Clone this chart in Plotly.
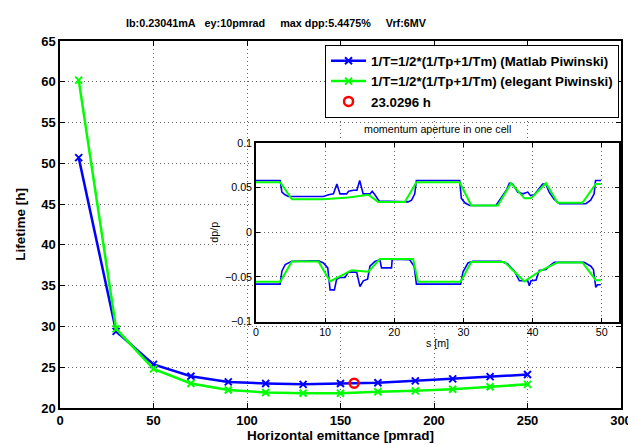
import plotly.graph_objects as go

# ---------------- data ----------------
emittance = [10, 30, 50, 70, 90, 110, 130, 150, 170, 190, 210, 230, 250]
life_matlab = [50.7, 29.4, 25.35, 23.9, 23.2, 23.0, 22.9, 23.0, 23.1, 23.33, 23.57, 23.85, 24.1]
life_elegant = [60.2, 29.7, 24.8, 23.0, 22.2, 21.9, 21.8, 21.8, 22.0, 22.1, 22.3, 22.6, 22.9]
sel_emit = [157.3]
sel_life = [23.0296]

# momentum aperture in one cell (inset)
s_up_m = [0, 3.5, 3.75, 4.2, 4.7, 9.75, 10.5, 11.2, 11.7, 12.15, 13.1, 13.4, 14.1, 14.6, 15.0,
          15.5, 16.5, 16.8, 17.2, 17.8, 22.0, 22.5, 22.96, 23.2, 29.45, 29.7, 30.2, 30.9, 34.7,
          35.45, 36.2, 36.65, 37.1, 37.85, 38.6, 39.3, 39.7, 40.25, 40.7, 41.45, 41.9, 42.4,
          43.1, 43.9, 47.7, 48.4, 48.9, 49.1, 49.9]
dp_up_m = [0.058, 0.058, 0.045, 0.042, 0.040, 0.040, 0.042, 0.043, 0.054, 0.043, 0.043, 0.046,
           0.047, 0.047, 0.058, 0.043, 0.043, 0.046, 0.042, 0.035, 0.034, 0.036, 0.043, 0.058,
           0.058, 0.038, 0.033, 0.030, 0.030, 0.038, 0.047, 0.055, 0.054, 0.045, 0.043, 0.045,
           0.041, 0.042, 0.047, 0.054, 0.054, 0.045, 0.037, 0.032, 0.032, 0.036, 0.043, 0.058, 0.058]
s_lo_m = [0, 3.5, 3.75, 4.23, 5.19, 9.04, 9.75, 10.38, 10.72, 11.34, 11.67, 12.15, 12.87, 13.36,
          14.56, 15.04, 15.52, 16.14, 16.48, 17.2, 17.92, 18.16, 19.6, 19.7, 22.24, 22.87, 23.2,
          29.59, 29.93, 30.65, 31.37, 35.45, 36.41, 37.37, 38.09, 39.3, 39.53, 39.77, 40.49,
          40.97, 41.93, 42.41, 43.14, 47.46, 48.42, 48.8, 49.14, 49.38, 49.86]
dp_lo_m = [-0.058, -0.058, -0.0435, -0.0362, -0.0326, -0.0319, -0.0344, -0.0399, -0.0645,
           -0.0645, -0.0525, -0.0507, -0.0507, -0.0446, -0.0446, -0.0609, -0.0543, -0.0525,
           -0.038, -0.0326, -0.0308, -0.0399, -0.0399, -0.0301, -0.0308, -0.038, -0.058,
           -0.058, -0.0446, -0.0344, -0.0326, -0.0326, -0.0355, -0.0435, -0.0543, -0.0543,
           -0.0598, -0.0543, -0.0536, -0.0428, -0.0417, -0.038, -0.0337, -0.0337, -0.038,
           -0.0417, -0.0616, -0.0587, -0.0587]
s_up_e = [0, 3.5, 5.19, 9.75, 13.36, 16.24, 17.68, 21.52, 23.2, 29.45, 31.13, 34.97, 36.89,
          38.81, 39.77, 41.93, 43.6, 47.2, 49.14, 49.86]
dp_up_e = [0.056, 0.056, 0.037, 0.037, 0.039, 0.042, 0.034, 0.034, 0.056, 0.056, 0.030, 0.030,
           0.055, 0.038, 0.038, 0.055, 0.033, 0.033, 0.054, 0.054]
s_lo_e = [0, 3.5, 5.19, 9.04, 10.72, 13.84, 16.24, 17.92, 22.72, 23.44, 29.59, 31.13, 35.93,
          38.81, 41.21, 43.6, 47.2, 49.14, 49.86]
dp_lo_e = [-0.0555, -0.0555, -0.0326, -0.0326, -0.055, -0.0424, -0.0442, -0.030, -0.030,
           -0.0555, -0.0555, -0.0333, -0.0333, -0.055, -0.0428, -0.0337, -0.0337, -0.0536, -0.0536]

main_xticks = [0, 50, 100, 150, 200, 250, 300]
main_yticks = [20, 25, 30, 35, 40, 45, 50, 55, 60, 65]
inset_xticks = [0, 10, 20, 30, 40, 50]
inset_yticks = [-0.1, -0.05, 0, 0.05, 0.1]
inset_yticktext = ["\u22120.1", "\u22120.05", "0", "0.05", "0.1"]

BLUE = "rgb(0,0,255)"
GREEN = "rgb(0,255,0)"
RED = "rgb(255,0,0)"
FONT = "Liberation Sans, Arial, Helvetica, sans-serif"

fig = go.Figure()

fig.add_trace(go.Scatter(
    x=emittance, y=life_matlab, mode="lines+markers",
    name="1/T=1/2*(1/Tp+1/Tm) (Matlab Piwinski)",
    line=dict(color=BLUE, width=2.5),
    marker=dict(symbol="x-thin", size=7, color=BLUE, line=dict(color=BLUE, width=2)),
))
fig.add_trace(go.Scatter(
    x=emittance, y=life_elegant, mode="lines+markers",
    name="1/T=1/2*(1/Tp+1/Tm) (elegant Piwinski)",
    line=dict(color=GREEN, width=2.5),
    marker=dict(symbol="x-thin", size=7, color=GREEN, line=dict(color=GREEN, width=2)),
))
fig.add_trace(go.Scatter(
    x=sel_emit, y=sel_life, mode="markers", name="23.0296 h",
    marker=dict(symbol="circle-open", size=9, color=RED, line=dict(color=RED, width=2.5)),
))

for s, dp, col, w in [(s_up_m, dp_up_m, BLUE, 1.6), (s_lo_m, dp_lo_m, BLUE, 1.6),
                      (s_up_e, dp_up_e, GREEN, 2), (s_lo_e, dp_lo_e, GREEN, 2)]:
    fig.add_trace(go.Scatter(x=s, y=dp, mode="lines", xaxis="x2", yaxis="y2",
                             line=dict(color=col, width=w), showlegend=False))

grid = dict(showgrid=True, gridcolor="rgba(0,0,0,0.6)", griddash="1px,3px", gridwidth=1,
            zeroline=False, showline=True, linecolor="black", mirror="ticks",
            ticks="inside", tickcolor="black")

fig.update_layout(
    width=636, height=445, autosize=False,
    margin=dict(l=50, r=22, t=33, b=34),
    paper_bgcolor="white", plot_bgcolor="white",
    font=dict(family=FONT, color="black"),
    title=dict(
        text="Ib:0.23041mA\u00a0\u00a0\u00a0ey:10pmrad\u00a0\u00a0\u00a0\u00a0\u00a0max dpp:5.4475%\u00a0\u00a0\u00a0\u00a0\u00a0Vrf:6MV",
        x=268 / 636, xanchor="center", y=1 - 15 / 445, yanchor="middle",
        font=dict(size=10.8, weight="bold", family=FONT, color="black")),
    xaxis=dict(domain=[0, 1], range=[0, 300], tickvals=main_xticks, ticklen=5, linewidth=1.5,
               tickfont=dict(size=13, weight="bold"),
               title=dict(text="Horizontal emittance [pmrad]", standoff=3,
                          font=dict(size=13.5, weight="bold")), **grid),
    yaxis=dict(domain=[0, 1], range=[20, 65], tickvals=main_yticks, ticklen=5, linewidth=1.5,
               tickfont=dict(size=13, weight="bold"),
               title=dict(text="Lifetime [h]", standoff=12,
                          font=dict(size=13.5, weight="bold")), **grid),
    xaxis2=dict(domain=[0.3493, 0.9965], anchor="y2", range=[0, 52.5], tickvals=inset_xticks,
                ticklen=4, linewidth=1.5, tickfont=dict(size=10.7),
                title=dict(text="s [m]", standoff=2, font=dict(size=10.7)), **grid),
    yaxis2=dict(domain=[0.2354, 0.7222], anchor="x2", range=[-0.1, 0.1], tickvals=inset_yticks,
                ticktext=inset_yticktext, ticklen=4, linewidth=1.5, tickfont=dict(size=10.7),
                title=dict(text="dp/p", standoff=4, font=dict(size=10.7)), **grid),
    legend=dict(x=0.9965, xanchor="right", y=0.99, yanchor="top",
                bgcolor="white", bordercolor="black", borderwidth=1,
                font=dict(size=13.3, weight="bold", family=FONT), itemwidth=35),
    shapes=[dict(type="rect", xref="x2", yref="y2", x0=0, x1=52.5, y0=-0.1, y1=0.1,
                 fillcolor="white", line=dict(width=0), layer="below")],
    annotations=[dict(text="momentum aperture in one cell", xref="x2 domain", yref="y2 domain",
                      x=0.5, y=1, yanchor="bottom", yshift=6, showarrow=False,
                      font=dict(size=10.7, family=FONT, color="black"))],
)

fig.write_html("out.html")
